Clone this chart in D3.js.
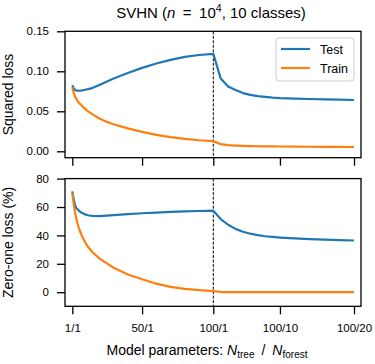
<!DOCTYPE html>
<html lang="en">
<head>
  <meta charset="UTF-8">
  <title>SVHN loss vs model parameters</title>
  <style>
    body { margin: 0; background: #fff; }
    svg text { font-family: "Liberation Sans", Arial, Helvetica, sans-serif; fill: #000; }
  </style>
  <script src="https://d3js.org/d3.v7.min.js"></script>
</head>
<body>
  <div id="chart"></div>

  <script>
    // N_tree grows first (N_forest = 1), then N_forest grows (N_tree = 100)
    const treeN = [1, 2, 3, 4, 5, 6, 8, 10, 12, 15, 20, 25, 30, 40, 50, 60, 70, 80, 90, 100];
    const forestN = [2, 3, 4, 5, 6, 7, 8, 9, 10, 12, 14, 16, 18, 20];

    const sqTestTree = [0.0825, 0.0785, 0.0765, 0.0758, 0.0757, 0.0758, 0.0762, 0.0770, 0.0778, 0.0790,
                        0.0828, 0.0868, 0.0910, 0.0978, 0.1043, 0.1097, 0.1143, 0.1180, 0.1204, 0.1217];
    const sqTrainTree = [0.0800, 0.0730, 0.0680, 0.0650, 0.0620, 0.0600, 0.0565, 0.0530, 0.0500, 0.0465,
                         0.0410, 0.0370, 0.0338, 0.0287, 0.0243, 0.0205, 0.0177, 0.0155, 0.0138, 0.0126];
    const sqTestForest = [0.0910, 0.0810, 0.0765, 0.0728, 0.0705, 0.0690, 0.0680, 0.0671, 0.0665,
                          0.0659, 0.0654, 0.0649, 0.0645, 0.0641];
    const sqTrainForest = [0.0090, 0.0078, 0.0072, 0.0068, 0.0065, 0.0063, 0.0062, 0.0061, 0.0060,
                           0.0059, 0.0057, 0.0056, 0.0055, 0.0054];

    const zoTestTree = [71.0, 65.5, 61.0, 59.0, 58.0, 57.0, 55.7, 54.8, 54.2, 53.7,
                        53.6, 53.9, 54.3, 55.0, 55.6, 56.1, 56.5, 56.9, 57.2, 57.4];
    const zoTrainTree = [70.0, 62.0, 56.0, 51.0, 47.3, 44.0, 39.0, 35.2, 32.0, 28.3,
                         23.8, 20.5, 17.2, 12.5, 9.1, 6.0, 3.8, 2.4, 1.4, 0.7];
    const zoTestForest = [51.5, 47.5, 44.6, 42.6, 41.2, 40.2, 39.4, 38.9, 38.5, 37.9, 37.4, 37.0, 36.7, 36.4];
    const zoTrainForest = [0.2, 0.1, 0.05, 0.05, 0, 0, 0, 0, 0, 0, 0, 0, 0, 0];

    const xTickPos = [1, 50, 100, 109, 119];
    const xTickLabels = ["1/1", "50/1", "100/1", "100/10", "100/20"];
    const sqTicks = [0, 0.05, 0.10, 0.15];
    const zoTicks = [0, 20, 40, 60, 80];

    const blue = "#1f77b4", orange = "#ff7f0e";
    const frameL = 65, frameR = 361;

    const svg = d3.select("#chart")
      .append("svg")
      .attr("width", 375)
      .attr("height", 364);

    // left half: position = N_tree, right half: position = 99 + N_forest
    const x = d3.scaleLinear()
      .domain([1, 100, 119])
      .range([72.3, 213.3, 354]);

    function series(treeVals, forestVals) {
      return treeN.map((n, i) => ({ pos: n, v: treeVals[i] }))
        .concat(forestN.map((n, i) => ({ pos: 99 + n, v: forestVals[i] })));
    }

    function panel(cfg) {
      const y = d3.scaleLinear().domain(cfg.domain).range(cfg.range);
      const g = svg.append("g");

      g.append("line")
        .attr("x1", x(100)).attr("x2", x(100))
        .attr("y1", cfg.top).attr("y2", cfg.bottom)
        .attr("stroke", "#000")
        .attr("stroke-width", 1)
        .attr("stroke-dasharray", "3,1.5");

      const line = d3.line()
        .x(d => x(d.pos))
        .y(d => y(d.v));

      cfg.lines.forEach(s => {
        g.append("path")
          .datum(series(s.tree, s.forest))
          .attr("fill", "none")
          .attr("stroke", s.color)
          .attr("stroke-width", 2.2)
          .attr("stroke-linejoin", "round")
          .attr("d", line);
      });

      g.append("rect")
        .attr("x", frameL).attr("y", cfg.top)
        .attr("width", frameR - frameL).attr("height", cfg.bottom - cfg.top)
        .attr("fill", "none")
        .attr("stroke", "#000")
        .attr("stroke-width", 1.3);

      const yAxis = g.append("g")
        .attr("transform", `translate(${frameL},0)`)
        .call(d3.axisLeft(y).tickValues(cfg.ticks).tickFormat(cfg.fmt).tickSize(8).tickPadding(8));
      yAxis.select(".domain").remove();
      yAxis.selectAll(".tick line").attr("stroke-width", 1.3);
      yAxis.selectAll("text").style("font-size", "11.5px");

      const xAxis = g.append("g")
        .attr("transform", `translate(0,${cfg.bottom})`)
        .call(d3.axisBottom(x).tickValues(xTickPos)
          .tickFormat((d, i) => cfg.xLabels ? xTickLabels[i] : "")
          .tickSize(8).tickPadding(10));
      xAxis.select(".domain").remove();
      xAxis.selectAll(".tick line").attr("stroke-width", 1.3);
      xAxis.selectAll("text").style("font-size", "11.5px");

      g.append("text")
        .attr("transform", `translate(13,${(cfg.top + cfg.bottom) / 2}) rotate(-90)`)
        .attr("text-anchor", "middle")
        .style("font-size", "14px")
        .text(cfg.ylabel);
    }

    panel({
      domain: [0, 0.15], range: [151.3, 31.3], top: 31.3, bottom: 157.7,
      ticks: sqTicks, fmt: d3.format(".2f"), ylabel: "Squared loss", xLabels: false,
      lines: [
        { tree: sqTestTree, forest: sqTestForest, color: blue },
        { tree: sqTrainTree, forest: sqTrainForest, color: orange }
      ]
    });

    panel({
      domain: [0, 80], range: [292.2, 178.6], top: 178.6, bottom: 306.3,
      ticks: zoTicks, fmt: d3.format("d"), ylabel: "Zero-one loss (%)", xLabels: true,
      lines: [
        { tree: zoTestTree, forest: zoTestForest, color: blue },
        { tree: zoTrainTree, forest: zoTrainForest, color: orange }
      ]
    });

    // legend
    const legend = svg.append("g");
    legend.append("rect")
      .attr("x", 276).attr("y", 38)
      .attr("width", 78).attr("height", 43)
      .attr("rx", 3)
      .attr("fill", "#fff").attr("fill-opacity", 0.8)
      .attr("stroke", "#cccccc").attr("stroke-width", 1);
    [["Test", blue], ["Train", orange]].forEach((d, i) => {
      const ly = 49 + i * 19;
      legend.append("line")
        .attr("x1", 281).attr("x2", 310)
        .attr("y1", ly).attr("y2", ly)
        .attr("stroke", d[1]).attr("stroke-width", 2.2);
      legend.append("text")
        .attr("x", 320).attr("y", ly + 4.5)
        .style("font-size", "12.5px")
        .text(d[0]);
    });

    // title
    const title = svg.append("text")
      .attr("x", 211).attr("y", 18)
      .attr("text-anchor", "middle")
      .attr("xml:space", "preserve")
      .style("font-size", "15px");
    title.append("tspan").text("SVHN (");
    title.append("tspan").style("font-style", "italic").text("n");
    title.append("tspan").text("\u2002=\u200210");
    title.append("tspan").attr("dy", -6).style("font-size", "10.5px").text("4");
    title.append("tspan").attr("dy", 6).text(", 10 classes)");

    // x label
    const xl = svg.append("text")
      .attr("x", 207).attr("y", 355)
      .attr("text-anchor", "middle")
      .style("font-size", "14px");
    xl.append("tspan").text("Model parameters: ");
    xl.append("tspan").style("font-style", "italic").text("N");
    xl.append("tspan").attr("dy", 3).style("font-size", "10px").text("tree");
    xl.append("tspan").attr("dy", -3).text("\u2002/\u2002");
    xl.append("tspan").style("font-style", "italic").text("N");
    xl.append("tspan").attr("dy", 3).style("font-size", "10px").text("forest");
  </script>
</body>
</html>
